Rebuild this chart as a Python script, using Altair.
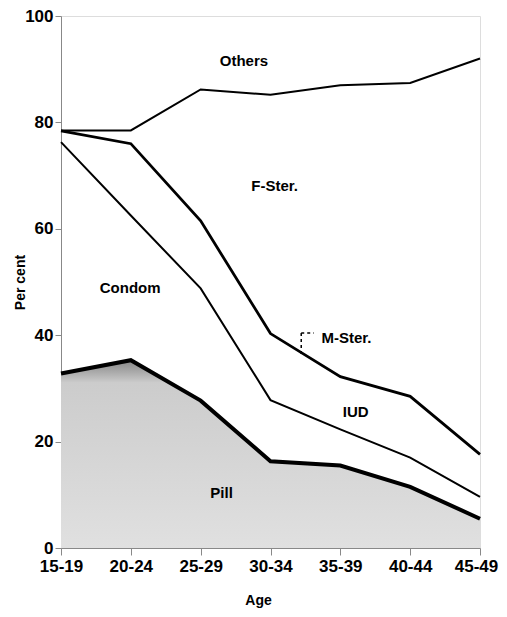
import altair as alt
import pandas as pd

ages = ["15-19", "20-24", "25-29", "30-34", "35-39", "40-44", "45-49"]
# cumulative boundaries (per cent)
pill_top = [32.8, 35.3, 27.7, 16.3, 15.5, 11.5, 5.5]
condom_top = [76.3, 62.5, 48.8, 27.8, 22.3, 17.0, 9.6]
iud_top = [78.4, 76.0, 61.5, 40.3, 32.2, 28.5, 17.6]
ster_top = [78.5, 78.5, 86.2, 85.2, 87.0, 87.4, 92.0]

label_names = ["Others", "F-Ster.", "Condom", "IUD", "Pill"]
label_x = [2.62, 3.06, 0.99, 4.22, 2.30]
label_y = [91.6, 68.1, 48.9, 25.6, 10.4]

mster_label = ["M-Ster."]
mster_x = [3.73]
mster_y = [39.4]

idx = list(range(len(ages)))

pill_df = pd.DataFrame({"x": idx, "y": pill_top})
thin_df = pd.concat([
    pd.DataFrame({"x": idx, "y": condom_top, "s": "condom"}),
    pd.DataFrame({"x": idx, "y": ster_top, "s": "ster"}),
])
iud_df = pd.DataFrame({"x": idx, "y": iud_top})
lab_df = pd.DataFrame({"label": label_names, "x": label_x, "y": label_y})
mster_df = pd.DataFrame({"label": mster_label, "x": mster_x, "y": mster_y})

leader_h = pd.DataFrame({"x": [3.44], "x2": [3.62], "y": [40.4]})
leader_v = pd.DataFrame({"x": [3.44], "y": [40.4], "y2": [36.4]})

labels_js = "[" + ",".join("'" + a + "'" for a in ages) + "]"

xs = alt.Scale(domain=[0, 6], nice=False, zero=False)
ys = alt.Scale(domain=[0, 100], nice=False)

x_axis = alt.Axis(values=idx, labelExpr=labels_js + "[datum.value]", title="Age",
                  labelFontSize=17, labelFontWeight="bold", labelPadding=3,
                  labelOffset={"condition": {"test": "datum.value == 6", "value": -4}, "value": 0},
                  tickSize=7, titleFontSize=14, titleFontWeight="bold",
                  titleX=197, titleY=52, titleBaseline="middle",
                  labelFlush=False, grid=False)
y_axis = alt.Axis(values=[0, 20, 40, 60, 80, 100], title="Per cent",
                  labelFontSize=17, labelFontWeight="bold", labelPadding=2,
                  tickSize=6, titleFontSize=14, titleFontWeight="bold",
                  titleX=-41, titleY=266, titleAngle=270, titleBaseline="middle",
                  titleAlign="center", grid=False)

X = alt.X("x:Q", scale=xs, axis=x_axis)
Y = alt.Y("y:Q", scale=ys, axis=y_axis)

grad = alt.Gradient(
    gradient="linear",
    stops=[alt.GradientStop(color="#858585", offset=0),
           alt.GradientStop(color="#cccccc", offset=0.12),
           alt.GradientStop(color="#e0e0e0", offset=1)],
    x1=0, x2=0, y1=0, y2=1,
)

pill_area = alt.Chart(pill_df).mark_area(fill=grad, opacity=1).encode(x=X, y=Y)
pill_line = alt.Chart(pill_df).mark_line(color="black", strokeWidth=4).encode(x="x:Q", y="y:Q")
thin_lines = alt.Chart(thin_df).mark_line(color="black", strokeWidth=2).encode(
    x="x:Q", y="y:Q", detail="s:N")
iud_line = alt.Chart(iud_df).mark_line(color="black", strokeWidth=2.8).encode(x="x:Q", y="y:Q")

texts = alt.Chart(lab_df).mark_text(
    font="Liberation Sans", fontWeight="bold", fontSize=15, color="black", align="center"
).encode(x="x:Q", y="y:Q", text="label:N")

mster_text = alt.Chart(mster_df).mark_text(
    font="Liberation Sans", fontWeight="bold", fontSize=15, color="black", align="left"
).encode(x="x:Q", y="y:Q", text="label:N")

lead_h = alt.Chart(leader_h).mark_rule(
    color="black", strokeWidth=1.5, strokeDash=[3, 3]
).encode(x="x:Q", x2="x2:Q", y="y:Q")
lead_v = alt.Chart(leader_v).mark_rule(
    color="black", strokeWidth=1.5, strokeDash=[3, 3]
).encode(x="x:Q", y="y:Q", y2="y2:Q")

chart = alt.layer(pill_area, pill_line, thin_lines, iud_line, lead_h, lead_v, texts, mster_text).properties(
    width=419, height=532,
    autosize=alt.AutoSizeParams(type="none"),
    padding={"left": 53, "top": 8, "right": 19, "bottom": 61},
).configure_view(stroke="black", strokeWidth=2).configure_axis(
    domainColor="black", domainWidth=2, tickColor="black", tickWidth=2,
    labelColor="black", titleColor="black", grid=False,
    labelFont="Liberation Sans", titleFont="Liberation Sans",
).configure(background="white")

chart.save("out.html", embed_options={"renderer": "svg", "actions": False})
